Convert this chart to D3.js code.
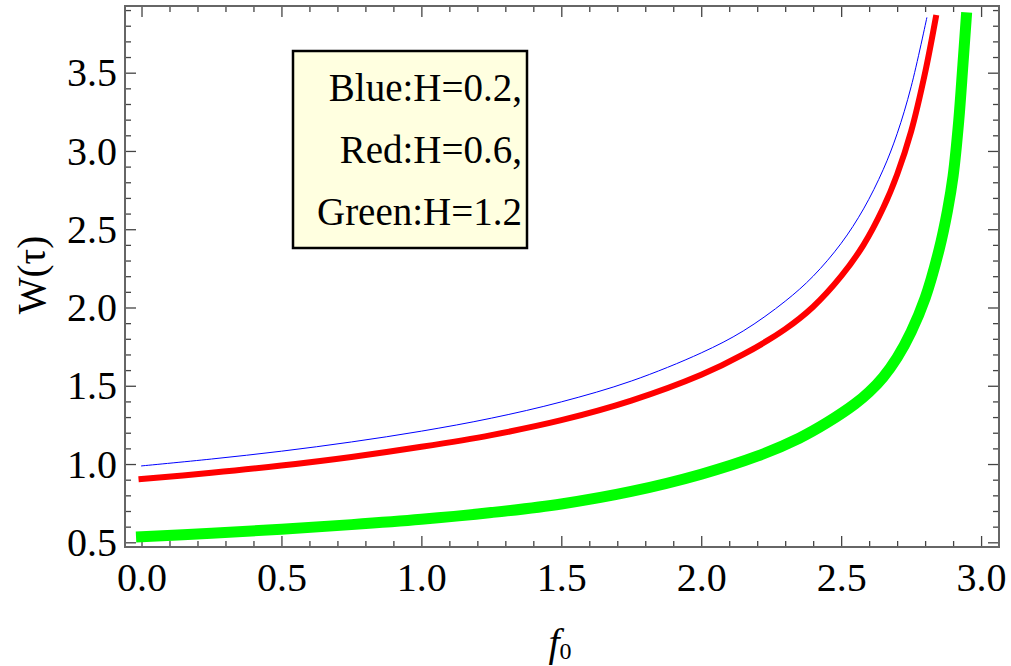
<!DOCTYPE html>
<html>
<head>
<meta charset="utf-8">
<script src="https://cdn.jsdelivr.net/npm/d3@7"></script>
<style>
  html, body { margin: 0; padding: 0; background: #fff; }
  svg { display: block; }
  text { font-family: "Liberation Serif", "Times New Roman", serif; fill: #000; }
</style>
</head>
<body>
<svg id="chart" width="1011" height="666"></svg>
<script>
// f0 values and W(tau) for each H
const f0Blue = [0, 0.25, 0.5, 0.75, 1.0, 1.25, 1.5, 1.75, 2.0, 2.15, 2.3, 2.4, 2.5, 2.58, 2.65, 2.7, 2.75, 2.806];
const wBlue  = [0.988, 1.032, 1.082, 1.141, 1.21, 1.293, 1.397, 1.53, 1.71, 1.85, 2.04, 2.20, 2.41, 2.63, 2.88, 3.11, 3.41, 3.85];

const f0Red = [0, 0.25, 0.5, 0.75, 1.0, 1.25, 1.5, 1.75, 2.0, 2.15, 2.3, 2.4, 2.5, 2.58, 2.65, 2.7, 2.75, 2.8, 2.838];
const wRed  = [0.904, 0.944, 0.99, 1.045, 1.11, 1.185, 1.28, 1.405, 1.57, 1.70, 1.862, 2.005, 2.20, 2.40, 2.635, 2.85, 3.125, 3.50, 3.85];

const f0Green = [0, 0.25, 0.5, 0.75, 1.0, 1.25, 1.5, 1.75, 2.0, 2.2, 2.35, 2.45, 2.55, 2.6, 2.65, 2.7, 2.75, 2.8, 2.85, 2.88, 2.9, 2.92, 2.935, 2.947];
const wGreen  = [0.536, 0.558, 0.584, 0.613, 0.647, 0.69, 0.745, 0.825, 0.935, 1.05, 1.165, 1.265, 1.385, 1.46, 1.555, 1.68, 1.845, 2.06, 2.37, 2.62, 2.84, 3.19, 3.55, 3.85];

const xMajor = [0, 0.5, 1.0, 1.5, 2.0, 2.5, 3.0];
const yMajor = [0.5, 1.0, 1.5, 2.0, 2.5, 3.0, 3.5];
const legendLines = ["Blue:H=0.2,", "Red:H=0.6,", "Green:H=1.2"];

const svg = d3.select("#chart");
const L = 125, R = 999, T = 6, B = 547;
const serif = "'Liberation Serif', 'Times New Roman', serif";

const x = d3.scaleLinear().domain([-0.059, 3.064]).range([L, R]);
const y = d3.scaleLinear().domain([0.47, 3.926]).range([B, T]);

const xMinor = d3.range(0, 31).map(i => i / 10).filter(v => !xMajor.some(m => Math.abs(m - v) < 1e-9));
const yMinor = d3.range(5, 40).map(i => i / 10).filter(v => !yMajor.some(m => Math.abs(m - v) < 1e-9));

const tickColor = "#444";
const fmt = d3.format(".1f");

function styleAxis(g) {
  g.attr("font-family", null).attr("font-size", null);
  g.select(".domain").remove();
  g.selectAll(".tick line").attr("stroke", tickColor).attr("stroke-width", 1.3);
}

// bottom axis
svg.append("g").attr("transform", `translate(0,${B})`)
  .call(d3.axisBottom(x).tickValues(xMajor).tickSize(-11).tickFormat(fmt))
  .call(styleAxis)
  .call(g => g.selectAll("text").attr("y", 44).attr("dy", null)
    .attr("font-family", serif).style("font-size", "40px"));
svg.append("g").attr("transform", `translate(0,${B})`)
  .call(d3.axisBottom(x).tickValues(xMinor).tickSize(-6).tickFormat(""))
  .call(styleAxis);

// top axis (mirror ticks)
svg.append("g").attr("transform", `translate(0,${T})`)
  .call(d3.axisTop(x).tickValues(xMajor).tickSize(-11).tickFormat(""))
  .call(styleAxis);
svg.append("g").attr("transform", `translate(0,${T})`)
  .call(d3.axisTop(x).tickValues(xMinor).tickSize(-6).tickFormat(""))
  .call(styleAxis);

// left axis
svg.append("g").attr("transform", `translate(${L},0)`)
  .call(d3.axisLeft(y).tickValues(yMajor).tickSize(-11).tickFormat(fmt))
  .call(styleAxis)
  .call(g => g.selectAll("text").attr("x", -8).attr("dy", "0.33em")
    .attr("font-family", serif).style("font-size", "40px"));
svg.append("g").attr("transform", `translate(${L},0)`)
  .call(d3.axisLeft(y).tickValues(yMinor).tickSize(-6).tickFormat(""))
  .call(styleAxis);

// right axis (mirror ticks)
svg.append("g").attr("transform", `translate(${R},0)`)
  .call(d3.axisRight(y).tickValues(yMajor).tickSize(-11).tickFormat(""))
  .call(styleAxis);
svg.append("g").attr("transform", `translate(${R},0)`)
  .call(d3.axisRight(y).tickValues(yMinor).tickSize(-6).tickFormat(""))
  .call(styleAxis);

// frame
svg.append("rect")
  .attr("x", L).attr("y", T).attr("width", R - L).attr("height", B - T)
  .attr("fill", "none").attr("stroke", "#666").attr("stroke-width", 2);

// curves
const line = d3.line().x(d => x(d[0])).y(d => y(d[1])).curve(d3.curveCatmullRom.alpha(0.5));
const series = [
  { f: f0Green, w: wGreen, color: "#00ff00", width: 11 },
  { f: f0Red,   w: wRed,   color: "#ff0000", width: 6 },
  { f: f0Blue,  w: wBlue,  color: "#0000ff", width: 1 }
];
series.forEach(s => {
  svg.append("path")
    .datum(s.f.map((v, i) => [v, s.w[i]]))
    .attr("d", line)
    .attr("fill", "none")
    .attr("stroke", s.color)
    .attr("stroke-width", s.width)
    .attr("stroke-linecap", "square")
    .attr("stroke-linejoin", "round");
});

// legend box
const lg = svg.append("g");
lg.append("rect")
  .attr("x", 293).attr("y", 51).attr("width", 234).attr("height", 197)
  .attr("fill", "#ffffe0").attr("stroke", "#000").attr("stroke-width", 2.5);
const legendY = [101, 163, 225];
legendLines.forEach((t, i) => {
  lg.append("text")
    .attr("x", 522).attr("y", legendY[i])
    .attr("text-anchor", "end")
    .attr("font-family", serif)
    .style("font-size", "39px")
    .text(t);
});

// axis titles
const xt = svg.append("text")
  .attr("x", 560).attr("y", 656)
  .attr("text-anchor", "middle")
  .attr("font-family", serif);
xt.append("tspan").style("font-style", "italic").style("font-size", "40px").text("f");
xt.append("tspan").attr("dy", 3).style("font-size", "24px").text("0");

svg.append("text")
  .attr("transform", "translate(45,275) rotate(-90)")
  .attr("text-anchor", "middle")
  .attr("font-family", serif)
  .style("font-size", "39px")
  .text("W(\u03c4)");
</script>
</body>
</html>
